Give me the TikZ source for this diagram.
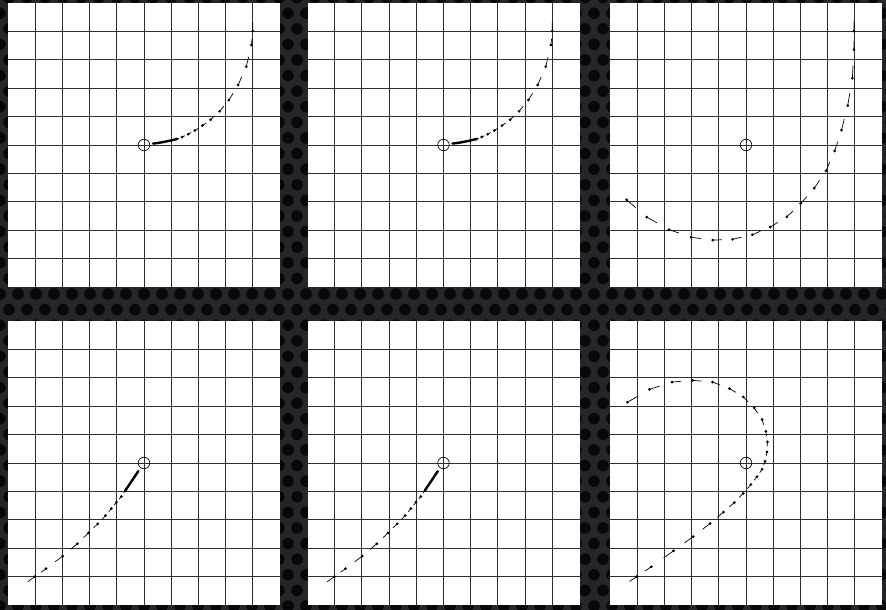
\documentclass[tikz,border=0pt]{standalone}
\usepackage{xcolor}
\usepackage{tikz}
\usetikzlibrary{calc}
\usetikzlibrary{positioning}
\definecolor{plate}{RGB}{36,38,42}
\definecolor{hole}{RGB}{8,8,10}
\tikzstyle{sheet} = [fill=white]
\tikzstyle{gridline} = [draw=black!82, line width=0.9pt]
\tikzstyle{origin} = [circle, draw=black, line width=0.65pt, minimum size=11.5pt, inner sep=0pt]
\tikzstyle{trail} = [draw=black, line width=0.7pt]
\tikzstyle{blob} = [fill=black]
\tikzstyle{slow} = [draw=black, line width=2.4pt, line cap=round]

\newcommand{\trajectory}[3]{%
  \foreach \x/\y [remember=\x as \lx (initially #1), remember=\y as \ly (initially #2)] in {#3} {
    \draw[trail] ($(\lx,\ly)!0.55!(\x,\y)$) -- (\x,\y);
    \fill[blob] (\x,\y) circle (1.5pt);
  }%
}

\begin{document}
\begin{tikzpicture}[x=1pt, y=1pt]
\useasboundingbox (0,0) rectangle (886,610);
\fill[plate] (0,0) rectangle (886,610);
\foreach \r in {0,...,39} {
  \foreach \c in {0,...,50} {
    \pgfmathsetmacro{\hx}{\c*18 + mod(\r,2)*9}
    \fill[hole] (\hx, \r*15.6 + 4) circle (5.8pt);
  }
}

\foreach \sx/\sy in {8/323, 307.5/323, 610/323, 8/5, 307.5/5, 610/5} {
  \begin{scope}[shift={(\sx pt,\sy pt)}, x=27.2pt, y=28.4pt]
    \fill[sheet] (0,0) rectangle (10,10);
    \foreach \i in {1,...,9} {
      \draw[gridline] (\i,0) -- (\i,10);
      \draw[gridline] (0,\i) -- (10,\i);
    }
  \end{scope}
}

\foreach \sx/\sy/\n in {144/465/1, 443.5/465/2} {
  \begin{scope}[shift={(\sx pt,\sy pt)}, x=27.2pt, y=28.4pt]
    \trajectory{4}{4.7}{4.0/4.01, 3.95/3.52, 3.76/2.76, 3.46/2.11, 3.12/1.58, 2.78/1.19, 2.45/0.89, 2.15/0.68, 1.87/0.51, 1.62/0.38, 1.40/0.28, 1.21/0.21}
    \draw[slow] plot[smooth] coordinates {(1.21,0.21) (0.9,0.14) (0.6,0.085) (0.33,0.05)};
    \node[origin] (o\n) at (0,0) {};
  \end{scope}
}

\begin{scope}[shift={(746pt,465pt)}, x=27.2pt, y=28.4pt]
  \trajectory{3.97}{4.75}{3.97/4.01, 3.97/3.36, 3.91/2.35, 3.74/1.39, 3.51/0.52, 3.26/-0.21, 2.94/-0.91, 2.51/-1.52, 2.01/-2.06, 1.50/-2.53, 0.89/-2.89, 0.23/-3.16, -0.49/-3.32, -1.22/-3.35, -2.02/-3.25, -2.83/-2.98, -3.65/-2.54, -4.39/-1.93}
  \node[origin] (o3) at (0,0) {};
\end{scope}

\foreach \sx/\sy/\n in {144/147/4, 443.5/147/5} {
  \begin{scope}[shift={(\sx pt,\sy pt)}, x=27.2pt, y=28.4pt]
    \trajectory{-4.6}{-4.4}{-4.01/-4.0, -3.60/-3.72, -2.99/-3.28, -2.45/-2.84, -2.04/-2.46, -1.70/-2.14, -1.41/-1.85, -1.20/-1.60, -1.01/-1.38, -0.83/-1.18, -0.68/-0.96}
    \draw[slow] (-0.68,-0.96) -- (-0.21,-0.29);
    \node[origin] (o\n) at (0,0) {};
  \end{scope}
}

\begin{scope}[shift={(746pt,147pt)}, x=27.2pt, y=28.4pt]
  \trajectory{-4.6}{-4.38}{-4.02/-4.0, -3.48/-3.65, -2.66/-3.09, -1.94/-2.59, -1.32/-2.13, -0.83/-1.73, -0.43/-1.39, -0.10/-1.07, 0.18/-0.76, 0.40/-0.48, 0.59/-0.22, 0.70/0.06, 0.77/0.39, 0.79/0.74, 0.73/1.12, 0.59/1.53, 0.30/1.94, -0.10/2.33, -0.61/2.62, -1.23/2.85, -1.96/2.91, -2.72/2.85, -3.55/2.59, -4.36/2.14}
  \node[origin] (o6) at (0,0) {};
\end{scope}
\end{tikzpicture}
\end{document}
